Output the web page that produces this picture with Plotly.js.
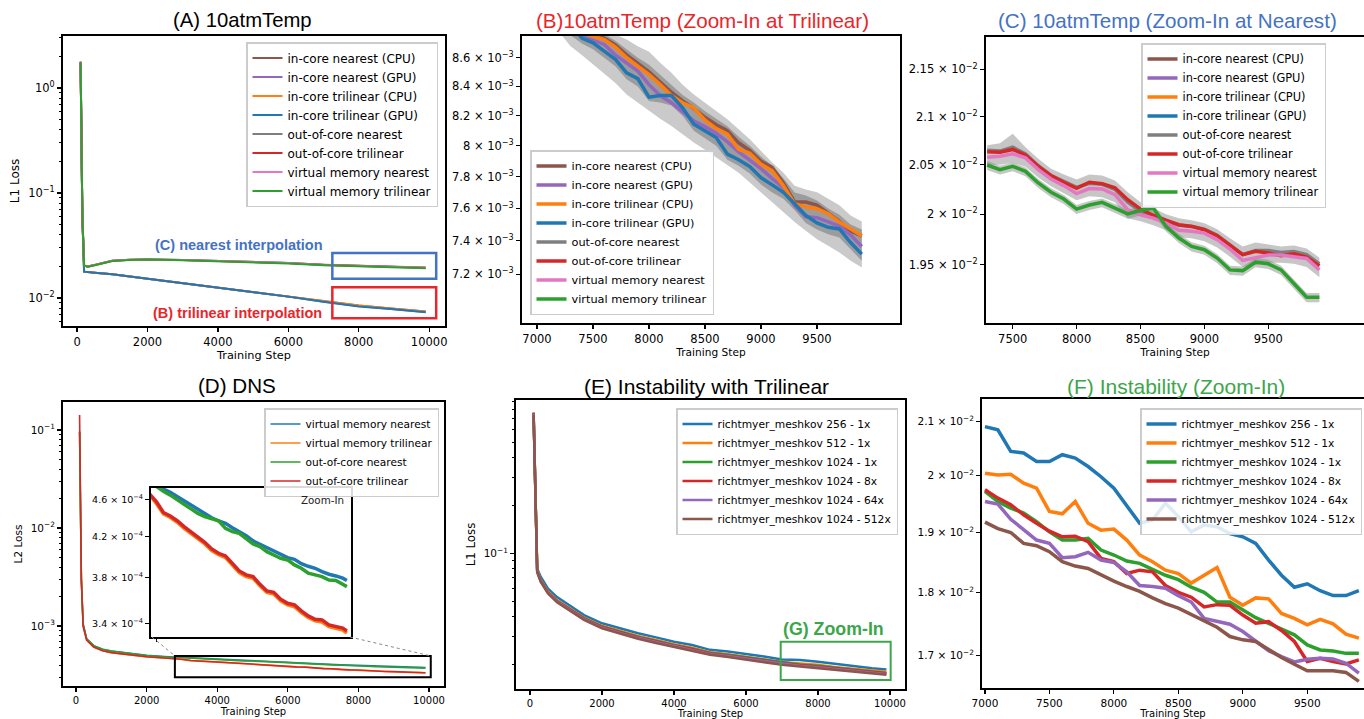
<!DOCTYPE html>
<html><head><meta charset="utf-8">
<script src="https://cdn.plot.ly/plotly-3.0.1.min.js"></script>
<style>html,body{margin:0;padding:0;background:#fff}#chart{width:1364px;height:719px}</style>
</head><body><div id="chart"></div>
<script>
// ================= DATA =================
const names10 = ['in-core nearest (CPU)','in-core nearest (GPU)','in-core trilinear (CPU)','in-core trilinear (GPU)','out-of-core nearest','out-of-core trilinear','virtual memory nearest','virtual memory trilinear'];
const namesDNS = ['virtual memory nearest','virtual memory trilinear','out-of-core nearest','out-of-core trilinear'];
const namesRM = ['richtmyer_meshkov 256 - 1x','richtmyer_meshkov 512 - 1x','richtmyer_meshkov 1024 - 1x','richtmyer_meshkov 1024 - 8x','richtmyer_meshkov 1024 - 64x','richtmyer_meshkov 1024 - 512x'];

// (A) 10atmTemp, full run
const stepsA = [100,150,200,300,500,1000,1500,2000,3000,4000,5000,6000,7000,8000,9000,9900];
const aInCoreNearestCPU   = [1.75,0.060,0.0178,0.0176,0.0174,0.0168,0.0160,0.0152,0.0137,0.0124,0.0113,0.0103,0.0093,0.0085,0.0079,0.00743];
const aInCoreNearestGPU   = [1.75,0.060,0.0178,0.0176,0.0174,0.0168,0.0160,0.0152,0.0137,0.0124,0.0113,0.0103,0.0092,0.0084,0.0078,0.00737];
const aInCoreTrilinearCPU = [1.75,0.060,0.0178,0.0176,0.0174,0.0168,0.0160,0.0152,0.0137,0.0124,0.0113,0.0103,0.0093,0.0085,0.0079,0.00743];
const aInCoreTrilinearGPU = [1.75,0.060,0.0178,0.0176,0.0174,0.0168,0.0160,0.0152,0.0137,0.0124,0.0113,0.0103,0.0092,0.0083,0.0078,0.00732];
const aOutOfCoreNearest   = [1.80,0.062,0.0205,0.0199,0.0206,0.0226,0.0231,0.0233,0.0230,0.0225,0.0220,0.0215,0.0207,0.0203,0.0199,0.0195];
const aOutOfCoreTrilinear = [1.75,0.060,0.0205,0.0199,0.0206,0.0226,0.0231,0.0233,0.0230,0.0225,0.0220,0.0215,0.0207,0.0203,0.0198,0.0194];
const aVmNearest          = [1.75,0.060,0.0205,0.0199,0.0206,0.0226,0.0231,0.0233,0.0230,0.0225,0.0220,0.0215,0.0206,0.0202,0.0198,0.0194];
const aVmTrilinear        = [1.75,0.060,0.0204,0.0198,0.0205,0.0225,0.0230,0.0232,0.0229,0.0224,0.0219,0.0213,0.0205,0.0200,0.0195,0.0192];

// (B) trilinear-group zoom, values in units of 1e-3
const stepsB = [7000,7100,7200,7300,7400,7500,7600,7700,7800,7900,8000,8100,8200,8300,8400,8500,8600,8700,8800,8900,9000,9100,9200,9300,9400,9500,9600,9700,9800,9900];
const bInCoreNearestCPU_e3   = [9.25,9.1,8.98,8.86,8.8,8.76,8.74,8.69,8.62,8.56,8.5,8.43,8.36,8.3,8.25,8.19,8.14,8.1,8.02,7.97,7.9,7.86,7.76,7.64,7.64,7.62,7.57,7.52,7.46,7.43];
const bInCoreNearestGPU_e3   = [9.15,9.02,8.9,8.8,8.75,8.725,8.694,8.619,8.565,8.506,8.412,8.337,8.288,8.225,8.165,8.127,8.084,8.026,7.961,7.907,7.852,7.788,7.731,7.619,7.548,7.542,7.515,7.49,7.435,7.366];
const bInCoreTrilinearCPU_e3 = [9.2,9.05,8.92,8.82,8.78,8.753,8.729,8.675,8.6,8.541,8.482,8.412,8.337,8.288,8.254,8.171,8.114,8.077,7.978,7.952,7.88,7.837,7.742,7.629,7.608,7.598,7.567,7.515,7.473,7.431];
const bInCoreTrilinearGPU_e3 = [9.15,9.05,8.95,8.85,8.74,8.706,8.647,8.588,8.494,8.454,8.326,8.337,8.337,8.254,8.143,8.099,8.055,7.946,7.909,7.865,7.794,7.748,7.701,7.629,7.556,7.51,7.483,7.473,7.39,7.32];
const bBandLightHi_e3 = [9.35,9.25,9.12,9.0,8.9,8.85,8.8,8.765,8.729,8.682,8.642,8.565,8.494,8.412,8.344,8.288,8.231,8.176,8.11,8.044,7.967,7.891,7.826,7.742,7.718,7.701,7.66,7.619,7.556,7.519];
const bBandLightLo_e3 = [8.95,8.85,8.78,8.682,8.619,8.553,8.489,8.424,8.344,8.288,8.231,8.18,8.132,8.077,8.022,7.974,7.924,7.876,7.826,7.763,7.701,7.639,7.577,7.515,7.462,7.41,7.37,7.33,7.28,7.24];
const bBandDarkHi_e3  = [9.3,9.18,9.05,8.93,8.85,8.8,8.77,8.72,8.66,8.6,8.55,8.48,8.41,8.34,8.29,8.23,8.18,8.13,8.06,8.0,7.93,7.87,7.79,7.7,7.68,7.65,7.6,7.56,7.5,7.47];
const bBandDarkLo_e3  = [9.05,8.95,8.85,8.76,8.7,8.66,8.6,8.54,8.45,8.4,8.3,8.29,8.27,8.2,8.1,8.05,8.0,7.91,7.87,7.82,7.75,7.7,7.66,7.59,7.51,7.47,7.44,7.42,7.35,7.28];

// (C) nearest-group zoom, values in units of 1e-2
const stepsC = [7300,7400,7500,7600,7700,7800,7900,8000,8100,8200,8300,8400,8500,8600,8700,8800,8900,9000,9100,9200,9300,9400,9500,9600,9700,9800,9900];
const cOutOfCoreNearest_e2   = [2.065,2.064,2.068,2.061,2.049,2.039,2.033,2.027,2.031,2.03,2.025,2.012,2.003,1.999,1.994,1.989,1.988,1.985,1.979,1.969,1.96,1.964,1.964,1.962,1.963,1.96,1.951];
const cOutOfCoreTrilinear_e2 = [2.0633,2.0629,2.0657,2.0601,2.0483,2.0389,2.0321,2.026,2.0321,2.0307,2.0264,2.0145,2.0051,1.9987,1.9938,1.9895,1.9878,1.9845,1.9786,1.9697,1.9599,1.9632,1.9615,1.9589,1.9609,1.9576,1.949];
const cVmNearest_e2          = [2.0577,2.0587,2.0612,2.057,2.045,2.0355,2.0287,2.0206,2.0257,2.0253,2.0196,2.0044,1.9993,1.9961,1.9911,1.9839,1.9829,1.9812,1.9747,1.9655,1.9543,1.9566,1.9595,1.9595,1.9582,1.9563,1.9451];
const cVmTrilinear_e2        = [2.0497,2.045,2.0483,2.0432,2.0314,2.022,2.0152,2.0051,2.0091,2.0118,2.0061,2.0003,2.0037,2.0061,1.9878,1.9763,1.9681,1.9648,1.9566,1.9451,1.9444,1.9526,1.951,1.9451,1.9319,1.9188,1.9188];
const cBandUpperHi_e2 = [2.07,2.072,2.082,2.068,2.056,2.046,2.04,2.035,2.04,2.039,2.034,2.022,2.012,2.006,2.0,1.996,1.994,1.991,1.985,1.976,1.968,1.972,1.97,1.968,1.969,1.966,1.957];
const cBandUpperLo_e2 = [2.05,2.05,2.052,2.048,2.037,2.028,2.021,2.014,2.018,2.017,2.012,1.996,1.993,1.989,1.984,1.977,1.976,1.973,1.967,1.958,1.948,1.95,1.952,1.952,1.951,1.948,1.938];
const cBandGreenHi_e2 = [2.0537,2.049,2.0523,2.0472,2.0354,2.026,2.0192,2.0091,2.0131,2.0158,2.0101,2.0043,2.0077,2.0101,1.9918,1.9803,1.9721,1.9688,1.9606,1.9491,1.9484,1.9566,1.955,1.9491,1.9359,1.9228,1.9228];
const cBandGreenLo_e2 = [2.0447,2.04,2.0433,2.0382,2.0264,2.017,2.0102,2.0001,2.0041,2.0068,2.0011,1.9953,1.9987,2.0011,1.9828,1.9713,1.9631,1.9598,1.9516,1.9401,1.9394,1.9476,1.946,1.9401,1.9269,1.9138,1.9138];

// (D) DNS
const stepsD = [100,150,200,300,500,750,1000,1500,2000,2500,2750,3000,3250,3500,3750,4000,4250,4500,4750,5000,5250,5500,5750,6000,6250,6500,6750,7000,7250,7500,7750,8000,8250,8500,8750,9000,9250,9500,9750,9900];
const dVmNearest = [0.096,3.0e-3,1.05e-3,7.4e-4,6.3e-4,5.8e-4,5.55e-4,5.25e-4,5.02e-4,4.88e-4,4.83e-4,
  4.8e-4,4.716e-4,4.68e-4,4.63e-4,4.58e-4,4.536e-4,4.49e-4,4.445e-4,4.398e-4,4.363e-4,4.338e-4,4.293e-4,4.251e-4,4.21e-4,4.156e-4,4.122e-4,4.082e-4,4.049e-4,4.016e-4,3.99e-4,3.974e-4,3.932e-4,3.907e-4,3.888e-4,3.857e-4,3.832e-4,3.816e-4,3.795e-4,3.774e-4];
const dVmTrilinear = [0.096,3.0e-3,1.0e-3,7.2e-4,6.1e-4,5.6e-4,5.35e-4,5.05e-4,4.84e-4,4.71e-4,4.65e-4,
  4.55e-4,4.44e-4,4.40e-4,4.35e-4,4.285e-4,4.235e-4,4.183e-4,4.126e-4,4.06e-4,4.018e-4,3.99e-4,3.92e-4,3.848e-4,3.81e-4,3.795e-4,3.725e-4,3.665e-4,3.652e-4,3.592e-4,3.556e-4,3.54e-4,3.49e-4,3.448e-4,3.42e-4,3.41e-4,3.372e-4,3.36e-4,3.345e-4,3.32e-4];
const dOutOfCoreNearest = [0.096,3.0e-3,1.05e-3,7.4e-4,6.3e-4,5.8e-4,5.55e-4,5.24e-4,5.0e-4,4.86e-4,4.8e-4,
  4.74e-4,4.69e-4,4.647e-4,4.6e-4,4.543e-4,4.494e-4,4.445e-4,4.409e-4,4.391e-4,4.366e-4,4.286e-4,4.251e-4,4.234e-4,4.183e-4,4.126e-4,4.099e-4,4.049e-4,4.016e-4,3.984e-4,3.968e-4,3.92e-4,3.888e-4,3.842e-4,3.826e-4,3.81e-4,3.779e-4,3.774e-4,3.739e-4,3.718e-4];
const dOutOfCoreTrilinear = [0.142,3.0e-3,1.0e-3,7.2e-4,6.1e-4,5.6e-4,5.35e-4,5.05e-4,4.85e-4,4.72e-4,4.66e-4,
  4.573e-4,4.455e-4,4.416e-4,4.366e-4,4.303e-4,4.251e-4,4.2e-4,4.143e-4,4.076e-4,4.033e-4,4.007e-4,3.936e-4,3.863e-4,3.826e-4,3.81e-4,3.739e-4,3.679e-4,3.667e-4,3.606e-4,3.57e-4,3.556e-4,3.504e-4,3.462e-4,3.434e-4,3.428e-4,3.387e-4,3.373e-4,3.36e-4,3.338e-4];

// (E) Instability with Trilinear
const stepsE = [100,200,300,500,750,1000,1500,2000,2500,3000,3500,4000,4500,5000,5500,6000,6500,7000,7500,8000,8500,9000,9500,9900];
const eRM256_1x   = [0.76,0.080,0.071,0.060,0.053,0.0485,0.0409,0.0363,0.0337,0.0314,0.0296,0.0278,0.0265,0.0247,0.0241,0.0233,0.0224,0.0215,0.0213,0.0208,0.0201,0.0196,0.0189,0.0186];
const eRM512_1x   = [0.76,0.078,0.068,0.0575,0.0508,0.0466,0.0394,0.0350,0.0324,0.0302,0.0285,0.0268,0.0255,0.0239,0.0232,0.0224,0.0215,0.0207,0.0203,0.0199,0.0192,0.0187,0.0182,0.0180];
const eRM1024_1x  = [0.77,0.077,0.0675,0.057,0.0503,0.0462,0.0391,0.0347,0.0321,0.0299,0.0282,0.0265,0.0252,0.0237,0.0230,0.0222,0.0213,0.0205,0.0200,0.0196,0.0191,0.0186,0.0180,0.0177];
const eRM1024_8x  = [0.76,0.077,0.067,0.0567,0.0500,0.0459,0.0388,0.0344,0.0318,0.0297,0.0280,0.0263,0.0250,0.0235,0.0228,0.0220,0.0212,0.0204,0.0198,0.0194,0.0189,0.0184,0.0178,0.0176];
const eRM1024_64x = [0.75,0.0765,0.0665,0.0563,0.0497,0.0456,0.0385,0.0341,0.0315,0.0294,0.0277,0.0261,0.0248,0.0233,0.0226,0.0218,0.0210,0.0202,0.0196,0.0192,0.0187,0.0182,0.0177,0.0174];
const eRM1024_512x= [0.74,0.076,0.066,0.0558,0.0492,0.0451,0.0381,0.0337,0.0311,0.0290,0.0273,0.0257,0.0244,0.0230,0.0223,0.0215,0.0207,0.0199,0.0194,0.0189,0.0184,0.0179,0.0174,0.0172];

// (F) Instability zoom, values in units of 1e-2
const stepsF = [7000,7100,7200,7300,7400,7500,7600,7700,7800,7900,8000,8100,8200,8300,8400,8500,8600,8700,8800,8900,9000,9100,9200,9300,9400,9500,9600,9700,9800,9900];
const fRM256_1x_e2   = [2.0907,2.0846,2.0444,2.0414,2.0259,2.0259,2.0383,2.0321,2.0167,1.9982,1.9776,1.9453,1.9159,1.9218,1.9512,1.9276,1.9012,1.9129,1.91,1.8983,1.8927,1.8815,1.8534,1.8281,1.8084,1.814,1.8028,1.7948,1.7948,1.8028];
const fRM512_1x_e2   = [2.0043,2.0012,2.0025,1.9865,1.9776,1.9365,1.9324,1.9541,1.9159,1.9041,1.9059,1.8871,1.8618,1.8506,1.8365,1.8309,1.8152,1.8281,1.841,1.7922,1.7792,1.7911,1.7896,1.7661,1.7583,1.7479,1.7568,1.7495,1.7333,1.7271];
const fRM1024_1x_e2  = [1.9718,1.9541,1.9424,1.9335,1.9188,1.9012,1.8871,1.8871,1.8899,1.8702,1.8618,1.8517,1.8478,1.8376,1.8281,1.8208,1.8084,1.8,1.7844,1.7844,1.7714,1.7594,1.7505,1.7411,1.7323,1.7167,1.7089,1.7073,1.7036,1.7036];
const fRM1024_8x_e2  = [1.9747,1.96,1.9482,1.9306,1.9159,1.9024,1.8927,1.8938,1.8843,1.8562,1.8506,1.8309,1.8365,1.8337,1.8112,1.8,1.7922,1.7766,1.7802,1.7792,1.7635,1.7505,1.7531,1.7391,1.7219,1.691,1.696,1.691,1.6875,1.6935];
const fRM1024_64x_e2 = [1.9541,1.9494,1.9229,1.9041,1.8871,1.8815,1.8573,1.859,1.8663,1.8534,1.8494,1.8337,1.8112,1.8096,1.8067,1.7948,1.7844,1.7583,1.7542,1.749,1.7375,1.7219,1.7078,1.6985,1.6905,1.6945,1.696,1.695,1.6885,1.6735];
const fRM1024_512x_e2= [1.918,1.9068,1.9,1.8815,1.8775,1.8674,1.8506,1.8433,1.8393,1.8281,1.8185,1.8096,1.8017,1.7911,1.7818,1.7745,1.7646,1.7547,1.7443,1.7297,1.7245,1.7219,1.7089,1.6971,1.687,1.677,1.677,1.677,1.6745,1.661];

// tick labels
const xTicksFull = [0,2000,4000,6000,8000,10000];
const xTicksB = [7000,7500,8000,8500,9000,9500];
const xTicksC = [7500,8000,8500,9000,9500];
const xTicksF = [7000,7500,8000,8500,9000,9500];
const yTicksA = [1,0.1,0.01], yTextA = ['10<sup>0</sup>','10<sup>−1</sup>','10<sup>−2</sup>'];
const yTicksB_m = [7.2,7.4,7.6,7.8,8,8.2,8.4,8.6];
const yTicksC_c = [1.95,2,2.05,2.1,2.15];
const yTicksD = [0.1,0.01,0.001], yTextD = ['10<sup>−1</sup>','10<sup>−2</sup>','10<sup>−3</sup>'];
const yTicksInset = [3.4,3.8,4.2,4.6];
const yTicksE = [0.1], yTextE = ['10<sup>−1</sup>'];
const yTicksF_c = [1.7,1.8,1.9,2,2.1];

// ================= STYLE =================
const W = 1364, H = 719;
const FONT = 'DejaVu Sans';
const TFONT = 'Liberation Sans, Arial, sans-serif';
const tab = {blue:'#1f77b4',orange:'#ff7f0e',green:'#2ca02c',red:'#d62728',purple:'#9467bd',brown:'#8c564b',pink:'#e377c2',gray:'#7f7f7f'};
const colors10 = [tab.brown,tab.purple,tab.orange,tab.blue,tab.gray,tab.red,tab.pink,tab.green];
const colorsDNS = [tab.blue,tab.orange,tab.green,tab.red];
const colorsRM = [tab.blue,tab.orange,tab.green,tab.red,tab.purple,tab.brown];
const annBlue = '#4472c4', annRed = '#e8262b', annGreen = '#3ca64a';

const scale = (arr, f) => arr.map(v => v * f);
const sci = (m, e) => m + ' × 10<sup>−' + e + '</sup>';
function logMinor(d0, d1){ const v=[]; for(let d=d0; d<=d1; d++) for(let k=2;k<=9;k++) v.push(k*Math.pow(10,d)); return v; }
const dx = (a,b) => [a/W, b/W];
const dy = (top,bottom) => [1-bottom/H, 1-top/H];

function ax(fs, extra){
  return Object.assign({showline:true, linecolor:'black', linewidth:2, mirror:true, ticks:'outside', ticklen:4, tickwidth:1.2,
    tickcolor:'black', showgrid:false, zeroline:false, automargin:false,
    tickfont:{family:FONT, size:fs, color:'black'}}, extra);
}
function xtitle(t, fs){ return {text:t, font:{family:FONT, size:fs, color:'black'}, standoff:1}; }
function ytitle(t, fs){ return {text:t, font:{family:FONT, size:fs, color:'black'}, standoff:6}; }
function legendCfg(x, xanchor, y, yanchor, fs){
  return {x:x, xanchor:xanchor, y:y, yanchor:yanchor, bgcolor:'rgba(255,255,255,0.85)', bordercolor:'#cccccc', borderwidth:1.5,
    font:{family:FONT, size:fs, color:'black'}, itemwidth:30, tracegroupgap:0, traceorder:'normal'};
}

// ================= TRACES =================
const traces = [];
const aSeries = [aInCoreNearestCPU,aInCoreNearestGPU,aInCoreTrilinearCPU,aInCoreTrilinearGPU,aOutOfCoreNearest,aOutOfCoreTrilinear,aVmNearest,aVmTrilinear];
aSeries.forEach((s,i)=>traces.push({type:'scatter',mode:'lines',x:stepsA,y:s,xaxis:'x',yaxis:'y',name:names10[i],legend:'legend',line:{color:colors10[i],width:2}}));

function band(xs, lo, hi, xa, ya, color){
  traces.push({type:'scatter',mode:'lines',x:xs,y:lo,xaxis:xa,yaxis:ya,line:{width:0},showlegend:false,hoverinfo:'skip'});
  traces.push({type:'scatter',mode:'lines',x:xs,y:hi,xaxis:xa,yaxis:ya,line:{width:0},fill:'tonexty',fillcolor:color,showlegend:false,hoverinfo:'skip'});
}
const zoomSeries = [
  [stepsB, scale(bInCoreNearestCPU_e3,1e-3)], [stepsB, scale(bInCoreNearestGPU_e3,1e-3)],
  [stepsB, scale(bInCoreTrilinearCPU_e3,1e-3)], [stepsB, scale(bInCoreTrilinearGPU_e3,1e-3)],
  [stepsC, scale(cOutOfCoreNearest_e2,1e-2)], [stepsC, scale(cOutOfCoreTrilinear_e2,1e-2)],
  [stepsC, scale(cVmNearest_e2,1e-2)], [stepsC, scale(cVmTrilinear_e2,1e-2)]];

// B
band(stepsB, scale(bBandLightLo_e3,1e-3), scale(bBandLightHi_e3,1e-3), 'x2','y2','rgba(128,128,128,0.42)');
band(stepsB, scale(bBandDarkLo_e3,1e-3), scale(bBandDarkHi_e3,1e-3), 'x2','y2','rgba(110,110,110,0.5)');
zoomSeries.forEach((s,i)=>traces.push({type:'scatter',mode:'lines',x:s[0],y:s[1],xaxis:'x2',yaxis:'y2',name:names10[i],legend:'legend2',line:{color:colors10[i],width:3.5}}));
// C
band(stepsC, scale(cBandUpperLo_e2,1e-2), scale(cBandUpperHi_e2,1e-2), 'x3','y3','rgba(128,128,128,0.45)');
band(stepsC, scale(cBandGreenLo_e2,1e-2), scale(cBandGreenHi_e2,1e-2), 'x3','y3','rgba(128,128,128,0.45)');
zoomSeries.forEach((s,i)=>traces.push({type:'scatter',mode:'lines',x:s[0],y:s[1],xaxis:'x3',yaxis:'y3',name:names10[i],legend:'legend3',line:{color:colors10[i],width:3.5}}));
// D + inset
const dSeries = [dVmNearest,dVmTrilinear,dOutOfCoreNearest,dOutOfCoreTrilinear];
dSeries.forEach((s,i)=>traces.push({type:'scatter',mode:'lines',x:stepsD,y:s,xaxis:'x4',yaxis:'y4',name:namesDNS[i],legend:'legend4',line:{color:colorsDNS[i],width:1.6}}));
dSeries.forEach((s,i)=>traces.push({type:'scatter',mode:'lines',x:stepsD,y:s,xaxis:'x7',yaxis:'y7',name:namesDNS[i],showlegend:false,line:{color:colorsDNS[i],width:3.5}}));
// E
const eSeries = [eRM256_1x,eRM512_1x,eRM1024_1x,eRM1024_8x,eRM1024_64x,eRM1024_512x];
eSeries.forEach((s,i)=>traces.push({type:'scatter',mode:'lines',x:stepsE,y:s,xaxis:'x5',yaxis:'y5',name:namesRM[i],legend:'legend5',line:{color:colorsRM[i],width:2.5}}));
// F
const fSeries = [fRM256_1x_e2,fRM512_1x_e2,fRM1024_1x_e2,fRM1024_8x_e2,fRM1024_64x_e2,fRM1024_512x_e2];
fSeries.forEach((s,i)=>traces.push({type:'scatter',mode:'lines',x:stepsF,y:scale(s,1e-2),xaxis:'x6',yaxis:'y6',name:namesRM[i],legend:'legend6',line:{color:colorsRM[i],width:3.5}}));

// ================= LAYOUT =================
const rngA=[-2.267,0.495], rngD=[-3.612,-0.714], rngE=[-1.8535,-0.0358];
const yFrac = (rng, v) => (Math.log10(v)-rng[0])/(rng[1]-rng[0]);
const minorTicks = (vals)=>({tickmode:'array', tickvals:vals, ticks:'outside', ticklen:2.5, tickwidth:1, tickcolor:'black', showgrid:false});
const title = (t, px, py, fs, color) => ({text:t, xref:'paper', yref:'paper', x:px/W, y:1-py/H, xanchor:'center', yanchor:'middle', showarrow:false, font:{family:TFONT,size:fs,color:color}});
const layout = {
  width:W, height:H, margin:{l:0,r:0,t:0,b:0}, paper_bgcolor:'white', plot_bgcolor:'white', showlegend:true,
  font:{family:FONT, color:'black'},
  // A
  xaxis: ax(11.5,{domain:dx(63,445), anchor:'y', range:[-400,10450], tickmode:'array', tickvals:xTicksFull, ticktext:xTicksFull.map(String), title:xtitle('Training Step',11.3)}),
  yaxis: ax(11.5,{domain:dy(36,326), anchor:'x', type:'log', range:rngA, tickmode:'array', tickvals:yTicksA, ticktext:yTextA, minor:minorTicks(logMinor(-3,0)), title:ytitle('L1 Loss',12)}),
  // B
  xaxis2: ax(11.5,{domain:dx(522,900), anchor:'y2', range:[6866,10241], tickmode:'array', tickvals:xTicksB, ticktext:xTicksB.map(String), title:xtitle('Training Step',10.6)}),
  yaxis2: ax(11.5,{domain:dy(36,323), anchor:'x2', type:'log', range:[-2.16002,-2.05777], tickmode:'array', tickvals:scale(yTicksB_m,1e-3), ticktext:yTicksB_m.map(v=>sci(v,3))}),
  // C
  xaxis3: ax(11.5,{domain:dx(986,1364), anchor:'y3', range:[7291,10249], tickmode:'array', tickvals:xTicksC, ticktext:xTicksC.map(String), title:xtitle('Training Step',10.6)}),
  yaxis3: ax(11.5,{domain:dy(37,323), anchor:'x3', type:'log', range:[-1.72258,-1.66054], mirror:false, tickmode:'array', tickvals:scale(yTicksC_c,1e-2), ticktext:yTicksC_c.map(v=>sci(v,2))}),
  // D
  xaxis4: ax(10,{domain:dx(63,444), anchor:'y4', range:[-370,10425], tickmode:'array', tickvals:xTicksFull, ticktext:xTicksFull.map(String), title:xtitle('Training Step',10)}),
  yaxis4: ax(10.5,{domain:dy(402,686), anchor:'x4', type:'log', range:rngD, tickmode:'array', tickvals:yTicksD, ticktext:yTextD, minor:minorTicks(logMinor(-4,-1)), title:ytitle('L2 Loss',10.5)}),
  // E
  xaxis5: ax(10,{domain:dx(516,905), anchor:'y5', range:[-389,10417], tickmode:'array', tickvals:xTicksFull, ticktext:xTicksFull.map(String), title:xtitle('Training Step',10)}),
  yaxis5: ax(10.5,{domain:dy(400,689), anchor:'x5', type:'log', range:rngE, tickmode:'array', tickvals:yTicksE, ticktext:yTextE, minor:minorTicks(logMinor(-2,-1)), title:ytitle('L1 Loss',11.8)}),
  // F
  xaxis6: ax(10.5,{domain:dx(982,1364), anchor:'y6', range:[6977,9940], tickmode:'array', tickvals:xTicksF, ticktext:xTicksF.map(String), title:xtitle('Training Step',10)}),
  yaxis6: ax(10.5,{domain:dy(399,688), anchor:'x6', type:'log', range:[-1.78222,-1.66888], mirror:false, tickmode:'array', tickvals:scale(yTicksF_c,1e-2), ticktext:yTicksF_c.map(v=>sci(v,2))}),
  // D inset
  xaxis7: ax(9.5,{domain:dx(151,351), anchor:'y7', range:[2800,10050], showticklabels:false, tickmode:'array', tickvals:[3000], ticklen:3}),
  yaxis7: ax(9.5,{domain:dy(488,637), anchor:'x7', type:'log', range:[-3.48303,-3.32527], tickmode:'array', tickvals:scale(yTicksInset,1e-4), ticktext:yTicksInset.map(v=>sci(v,4))}),
  legend:  legendCfg(438/W,'right',1-42/H,'top',12),
  legend2: legendCfg(530/W,'left',1-315/H,'bottom',11.3),
  legend3: legendCfg(1326/W,'right',1-43/H,'top',11.4),
  legend4: legendCfg(439/W,'right',1-408/H,'top',10.6),
  legend5: legendCfg(898/W,'right',1-408/H,'top',10.7),
  legend6: legendCfg(1362/W,'right',1-408/H,'top',10.7),
  annotations: [
    title('(A) 10atmTemp', 242, 20, 20.3, 'black'),
    title('(B)10atmTemp (Zoom-In at Trilinear)', 702, 20, 20.6, annRed),
    title('(C) 10atmTemp (Zoom-In at Nearest)', 1167, 20, 20.6, annBlue),
    title('(D) DNS', 237, 385, 20.6, 'black'),
    title('(E) Instability with Trilinear', 706, 386, 21, 'black'),
    title('(F) Instability (Zoom-In)', 1176, 386, 21, annGreen),
    {text:'<b>(C) nearest interpolation</b>', xref:'x', yref:'y', x:4600, y:Math.log10(0.032), xanchor:'center', showarrow:false, font:{family:TFONT,size:14.5,color:annBlue}},
    {text:'<b>(B) trilinear interpolation</b>', xref:'x', yref:'y', x:4545, y:Math.log10(0.0072), xanchor:'center', showarrow:false, font:{family:TFONT,size:14.5,color:annRed}},
    {text:'<b>(G) Zoom-In</b>', xref:'x5', yref:'y5', x:8444, y:Math.log10(0.0334), xanchor:'center', showarrow:false, font:{family:TFONT,size:17.8,color:annGreen}},
    {text:'Zoom-In', xref:'x7 domain', yref:'y7 domain', x:0.975, y:0.975, xanchor:'right', yanchor:'top', showarrow:false, font:{family:FONT,size:10.3,color:'#222'}}
  ],
  shapes: [
    {type:'rect', xref:'x', yref:'y domain', x0:7250, x1:10200, y0:yFrac(rngA,0.0152), y1:yFrac(rngA,0.0268), line:{color:annBlue,width:2.5}},
    {type:'rect', xref:'x', yref:'y domain', x0:7250, x1:10200, y0:yFrac(rngA,0.00641), y1:yFrac(rngA,0.01265), line:{color:annRed,width:2.5}},
    {type:'rect', xref:'x4', yref:'y4 domain', x0:2800, x1:10050, y0:yFrac(rngD,3.0e-4), y1:yFrac(rngD,4.94e-4), line:{color:'black',width:2}},
    {type:'line', xref:'paper', yref:'paper', x0:152/W, y0:1-637/H, x1:175/W, y1:1-656/H, line:{color:'#888',width:1,dash:'dot'}},
    {type:'line', xref:'paper', yref:'paper', x0:350/W, y0:1-637/H, x1:431/W, y1:1-656/H, line:{color:'#888',width:1,dash:'dot'}},
    {type:'rect', xref:'x5', yref:'y5 domain', x0:6964, x1:10019, y0:yFrac(rngE,0.01596), y1:yFrac(rngE,0.0278), line:{color:annGreen,width:2}}
  ]
};

Plotly.newPlot('chart', traces, layout, {staticPlot:true, displayModeBar:false});
</script>
</body></html>
